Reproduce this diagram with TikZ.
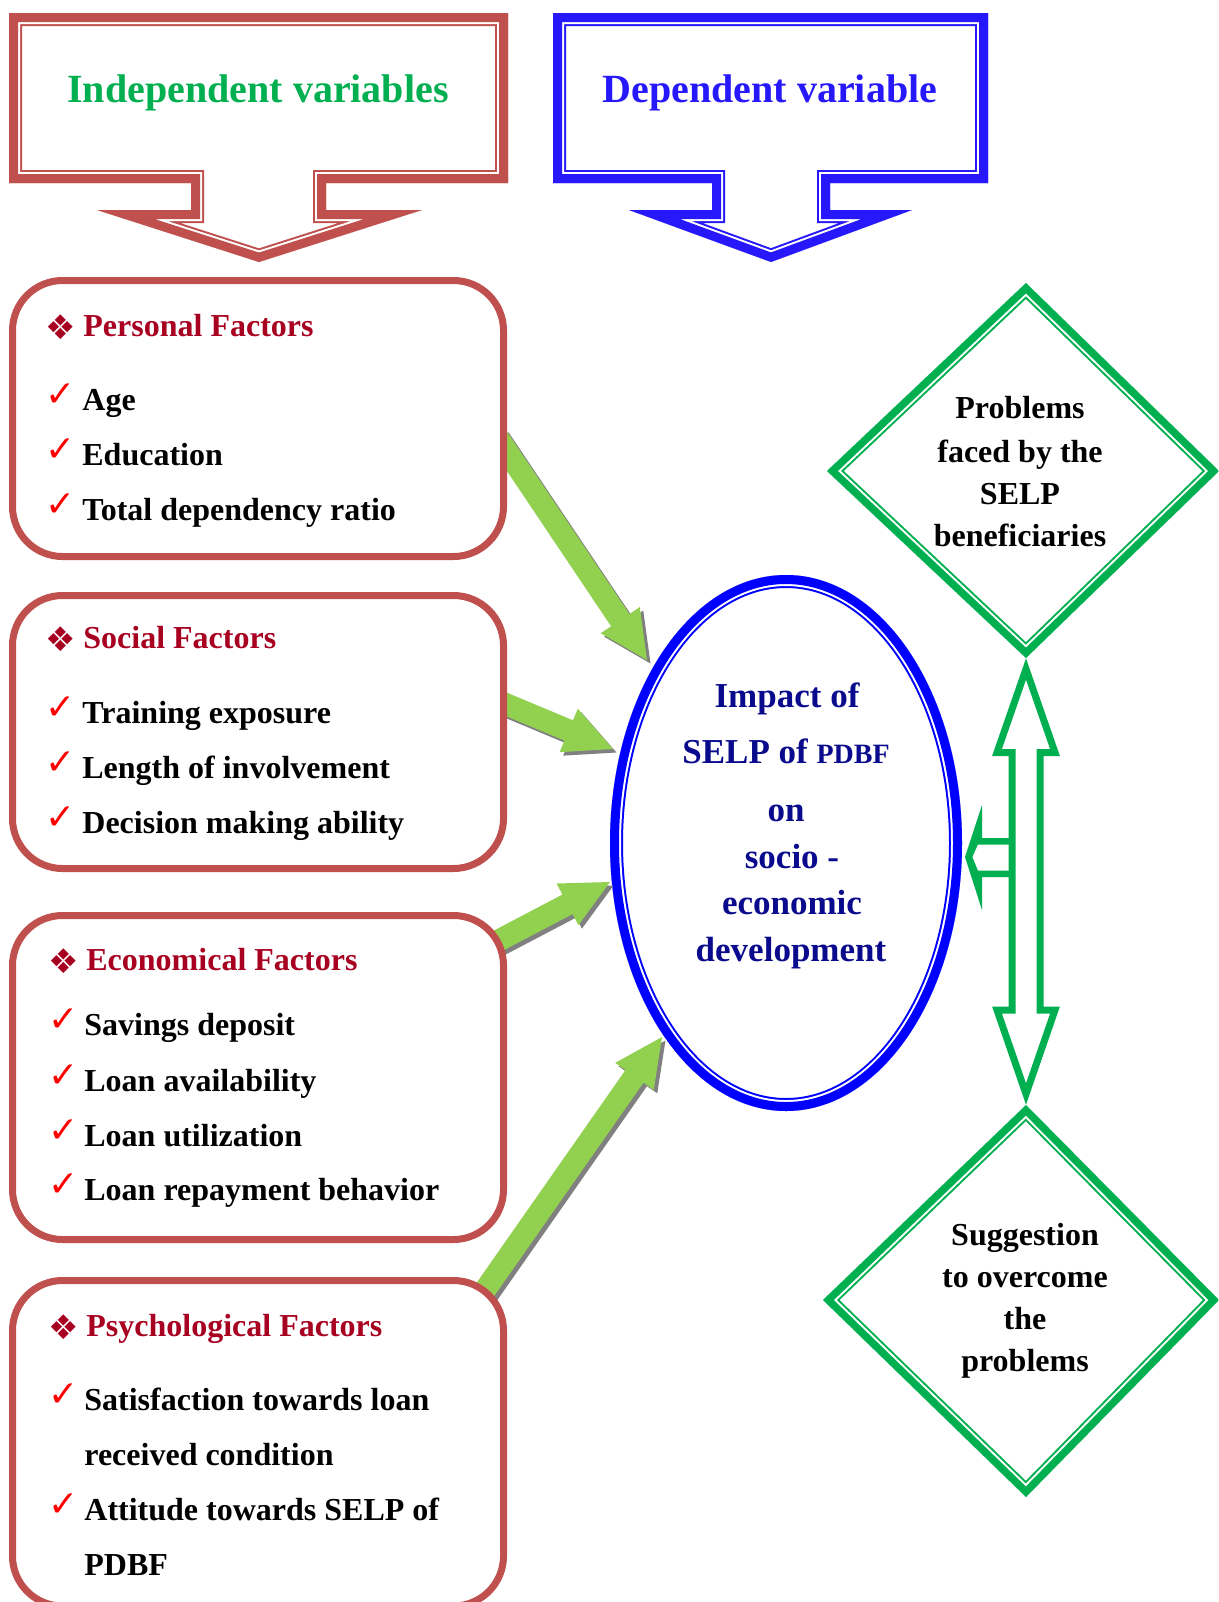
\documentclass[tikz,border=0pt]{standalone}
\usepackage{fontspec}
\setmainfont{Liberation Serif}
\newfontfamily\symfont{DejaVu Sans}
\usetikzlibrary{calc}
\definecolor{hdrred}{RGB}{192,80,77}
\definecolor{indgreen}{RGB}{0,176,80}
\definecolor{depblue}{RGB}{38,24,250}
\definecolor{facred}{RGB}{168,0,32}
\definecolor{ellblue}{RGB}{0,0,255}
\definecolor{elltext}{RGB}{10,10,140}
\definecolor{argreen}{RGB}{146,208,80}
\definecolor{shgray}{RGB}{128,128,128}
\definecolor{chkred}{RGB}{255,0,0}
\definecolor{dgreen}{RGB}{0,176,80}

% double frame: colour, outer band total, white, inner band, path (bands drawn inside the path)
\newcommand\dblframe[5]{%
  \begin{scope}[line join=miter, miter limit=12]
    \clip #5;
    \draw[#1, line width=#2] #5;
    \draw[white, line width=#3] #5;
    \draw[#1, line width=#4] #5;
  \end{scope}}

% block arrow with shadow: name, from, to
\newcommand\garrow[3]{%
  \coordinate (#1n) at ($(#3)!24pt!(#2)$);
  \begin{scope}[transform canvas={shift={(1.75pt,-1.75pt)}}]
    \fill[shgray] ($(#2)!5.5pt!90:(#3)$) -- ($(#1n)!5.5pt!90:(#3)$) -- ($(#1n)!11.75pt!90:(#3)$) -- (#3) -- ($(#1n)!11.75pt!-90:(#3)$) -- ($(#1n)!5.5pt!-90:(#3)$) -- ($(#2)!5.5pt!-90:(#3)$) -- cycle;
  \end{scope}
  \fill[argreen] ($(#2)!5.5pt!90:(#3)$) -- ($(#1n)!5.5pt!90:(#3)$) -- ($(#1n)!11.75pt!90:(#3)$) -- (#3) -- ($(#1n)!11.75pt!-90:(#3)$) -- ($(#1n)!5.5pt!-90:(#3)$) -- ($(#2)!5.5pt!-90:(#3)$) -- cycle;}

\tikzset{
  factbox/.style={draw=hdrred, line width=3.5pt, rounded corners=25pt, fill=white,
    inner sep=0pt, outer sep=0pt, minimum width=245.5pt},
  fachead/.style={anchor=base west, inner sep=0pt, text=facred,
    font=\fontsize{16pt}{19pt}\selectfont\bfseries},
  itemtext/.style={anchor=base west, inner sep=0pt, text=black,
    font=\fontsize{16pt}{19pt}\selectfont\bfseries},
  bul/.style={inner sep=0pt, text=facred, font=\symfont\fontsize{17pt}{19pt}\selectfont},
  chk/.style={inner sep=0pt, text=chkred, font=\symfont\fontsize{18pt}{20pt}\selectfont},
  hdrtext/.style={anchor=base, inner sep=0pt, font=\fontsize{20pt}{24pt}\selectfont\bfseries},
  elltxt/.style={anchor=base, inner sep=0pt, text=elltext, font=\fontsize{17.5pt}{20pt}\selectfont\bfseries},
  dmdtxt/.style={anchor=base, inner sep=0pt, text=black, font=\fontsize{16pt}{19pt}\selectfont\bfseries},
  outlinearrow/.style={draw=dgreen, line width=3.5pt, line join=miter}
}

\begin{document}
\begin{tikzpicture}[x=0.5pt, y=-0.5pt]
\useasboundingbox (0,0) rectangle (1219,1602);
\fill[white] (0,0) rectangle (1219,1602);

% ---------- header arrows ----------
\dblframe{hdrred}{13pt}{11pt}{9pt}{(9,13) -- (508,13) -- (508,183) -- (326,183) -- (326,210) -- (422,210) -- (259,262) -- (97,210) -- (191,210) -- (191,183) -- (9,183) -- cycle}
\node[hdrtext, text=indgreen] (indep) at (258,102) {Independent variables};

\dblframe{depblue}{13pt}{11pt}{9pt}{(553,13) -- (988,13) -- (988,183) -- (830,183) -- (830,210) -- (912,210) -- (771,262) -- (629,210) -- (712,210) -- (712,183) -- (553,183) -- cycle}
\node[hdrtext, text=depblue] (dep) at (770,102) {Dependent variable};

% ---------- central ellipse ----------
\dblframe{ellblue}{13pt}{11pt}{9pt}{(786,843) ellipse [x radius=88pt, y radius=134pt]}
\coordinate (impact) at (786,843);
\node[elltxt] (e1) at (787,707) {Impact of};
\node[elltxt] (e2) at (786,763) {SELP of {\fontsize{14pt}{16pt}\selectfont PDBF}};
\node[elltxt] (e3) at (786,821) {on};
\node[elltxt] (e4) at (792,868) {socio -};
\node[elltxt] (e5) at (792,914) {economic};
\node[elltxt] (e6) at (791,961) {development};

% ---------- green arrows ----------
\coordinate (t1) at (496,435);  \coordinate (h1) at (647,660);
\coordinate (t2) at (496,700);  \coordinate (h2) at (613,749);
\coordinate (t3) at (490,945);  \coordinate (h3) at (610,882);
\coordinate (t4) at (478,1300); \coordinate (h4) at (662,1037);
\garrow{a1}{t1}{h1}
\garrow{a2}{t2}{h2}
\garrow{a3}{t3}{h3}
\garrow{a4}{t4}{h4}

% ---------- factor boxes ----------
\node[factbox, minimum height=138pt] (personal) at (258,418.5) {};
\node[factbox, minimum height=136.5pt] (social) at (258,732) {};
\node[factbox, minimum height=162pt] (economic) at (258,1077.5) {};
\node[factbox, minimum height=162.75pt] (psych) at (258,1443.25) {};

% Personal
\node[bul] (pb) at (60.5,327) {❖};
\node[fachead] (ph) at (83,336) {Personal Factors};
\node[chk] (pc1) at (60.5,395.5) {✓};
\node[itemtext] (p1) at (82,410) {Age};
\node[chk] (pc2) at (60.5,450.5) {✓};
\node[itemtext] (p2) at (82,465) {Education};
\node[chk] (pc3) at (60.5,505.5) {✓};
\node[itemtext] (p3) at (82,520) {Total dependency ratio};

% Social
\node[bul] (sb) at (60.5,639) {❖};
\node[fachead] (sh) at (83,648) {Social Factors};
\node[chk] (sc1) at (60.5,708.5) {✓};
\node[itemtext] (s1) at (82,723) {Training exposure};
\node[chk] (sc2) at (60.5,763.5) {✓};
\node[itemtext] (s2) at (82,778) {Length of involvement};
\node[chk] (sc3) at (60.5,818.5) {✓};
\node[itemtext] (s3) at (82,833) {Decision making ability};

% Economical
\node[bul] (ecb) at (64,961) {❖};
\node[fachead] (ech) at (86,970) {Economical Factors};
\node[chk] (ecc1) at (63.5,1020.5) {✓};
\node[itemtext] (ec1) at (84,1035) {Savings deposit};
\node[chk] (ecc2) at (63.5,1076.5) {✓};
\node[itemtext] (ec2) at (84,1091) {Loan availability};
\node[chk] (ecc3) at (63.5,1131.5) {✓};
\node[itemtext] (ec3) at (84,1146) {Loan utilization};
\node[chk] (ecc4) at (63.5,1185.5) {✓};
\node[itemtext] (ec4) at (84,1200) {Loan repayment behavior};

% Psychological
\node[bul] (psb) at (64,1327) {❖};
\node[fachead] (psh) at (86,1336) {Psychological Factors};
\node[chk] (psc1) at (63.5,1395.5) {✓};
\node[itemtext] (ps1) at (84,1410) {Satisfaction towards loan};
\node[itemtext] (ps2) at (84,1465) {received condition};
\node[chk] (psc3) at (63.5,1505.5) {✓};
\node[itemtext] (ps3) at (84,1520) {Attitude towards SELP of};
\node[itemtext] (ps4) at (84,1575) {PDBF};

% ---------- diamonds ----------
\dblframe{dgreen}{11.5pt}{9.5pt}{7.5pt}{(1026,283) -- (1219,471) -- (1026,658) -- (827,471) -- cycle}
\node[dmdtxt] (d1) at (1020,418) {Problems};
\node[dmdtxt] (d2) at (1020,462) {faced by the};
\node[dmdtxt] (d3) at (1020,504) {SELP};
\node[dmdtxt] (d4) at (1020,546) {beneficiaries};

\dblframe{dgreen}{11.5pt}{9.5pt}{7.5pt}{(1026,1105) -- (1219,1300) -- (1026,1497) -- (823,1300) -- cycle}
\node[dmdtxt] (g1) at (1025,1245) {Suggestion};
\node[dmdtxt] (g2) at (1025,1287) {to overcome};
\node[dmdtxt] (g3) at (1025,1329) {the};
\node[dmdtxt] (g4) at (1025,1371) {problems};

% ---------- outline arrows on the right ----------
\fill[dgreen] (1012,838) -- (982,838) -- (982,805) -- (965,857) -- (982,910) -- (982,877) -- (1012,877) -- cycle;
\fill[white] (1012,844.5) -- (978,844.5) -- (972.5,857) -- (978,870.5) -- (1012,870.5) -- cycle;
\draw[outlinearrow] (1026,669) -- (1055,752.5) -- (1040,752.5) -- (1040,1010) -- (1055,1010) -- (1026,1094) -- (997,1010) -- (1012,1010) -- (1012,752.5) -- (997,752.5) -- cycle;
\end{tikzpicture}
\end{document}
